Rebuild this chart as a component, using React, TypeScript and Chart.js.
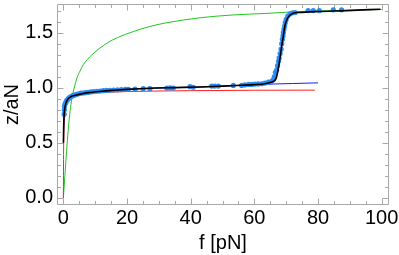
import React, { useEffect, useRef } from "react";
import { Chart, registerables } from "chart.js";
Chart.register(...registerables);

const xTicks = [0, 20, 40, 60, 80, 100];
const yTicks = [0, 0.5, 1.0, 1.5];
const xMinorTicks = [5, 10, 15, 25, 30, 35, 45, 50, 55, 65, 70, 75, 85, 90, 95];
const yMinorTicks = [0.1, 0.2, 0.3, 0.4, 0.6, 0.7, 0.8, 0.9, 1.1, 1.2, 1.3, 1.4, 1.6, 1.7];

const greenF = [0, 0.5, 1, 1.5, 2, 2.5, 3, 3.6, 4.3, 5.2, 6.3, 7.5, 9, 11.5, 14, 17, 22, 27, 32.5, 43, 53, 64, 73, 85, 100];
const greenZ = [0, 0.21, 0.42, 0.61, 0.76, 0.87, 0.95, 1.02, 1.09, 1.15, 1.21, 1.255, 1.3, 1.36, 1.41, 1.455, 1.51, 1.555, 1.59, 1.635, 1.66, 1.675, 1.69, 1.7, 1.71];

const redF = [0, 0.03, 0.06, 0.1, 0.2, 0.4, 0.7, 1, 1.5, 2, 3, 4.5, 7, 10, 15, 20, 30, 40, 60, 79];
const redZ = [0, 0.2, 0.35, 0.5, 0.64, 0.74, 0.81, 0.85, 0.88, 0.9, 0.915, 0.93, 0.943, 0.952, 0.96, 0.965, 0.97, 0.973, 0.977, 0.978];

const blueF = [0.02, 0.08, 0.18, 0.35, 0.63, 1, 1.5, 2.2, 3, 4.6, 7.8, 12, 16, 20, 24, 29, 35, 43, 50, 56, 60, 63.3, 66.5, 72, 80];
const blueZ = [0.5, 0.62, 0.72, 0.79, 0.84, 0.875, 0.9, 0.915, 0.926, 0.937, 0.955, 0.968, 0.977, 0.985, 0.991, 0.997, 1.001, 1.006, 1.014, 1.022, 1.026, 1.03, 1.034, 1.038, 1.044];

const fitF = [0.02, 0.08, 0.18, 0.35, 0.63, 1, 1.5, 2.2, 3, 4.6, 7.8, 12, 16, 20, 24, 29, 35, 43, 50, 56, 60, 63.3, 65.5, 66.5, 67, 67.5, 68, 68.6, 69.1, 69.6, 70.2, 71.2, 72.2, 74, 80, 89, 99.6];
const fitZ = [0.5, 0.62, 0.72, 0.79, 0.84, 0.875, 0.9, 0.915, 0.926, 0.937, 0.955, 0.968, 0.977, 0.985, 0.991, 0.997, 1.001, 1.006, 1.014, 1.022, 1.028, 1.036, 1.051, 1.07, 1.1, 1.17, 1.26, 1.38, 1.47, 1.56, 1.617, 1.66, 1.677, 1.683, 1.692, 1.7, 1.713];

const dataF = [0.25, 0.3, 0.35, 0.5, 0.7, 0.9, 1.1, 1.4, 1.7, 2, 2.4, 2.8, 3.2, 3.7, 4.2, 4.8, 5.5, 6.2, 7, 7.8, 8.6, 9.5, 10.5, 11.5, 12.5, 13.5, 14.6, 15.8, 17, 18.2, 19.5, 20.4, 22.5, 25.1, 27.2, 32.5, 33.5, 34.5, 39.8, 40.8, 46.6, 47.6, 48.7, 53.4, 56, 57, 58.2, 59.2, 60.2, 61.2, 62.3, 63.3, 64.4, 65.5, 66, 66.3, 66.6, 67, 67.3, 67.6, 67.8, 68.1, 68.4, 68.6, 68.8, 69, 69.1, 69.3, 69.5, 69.7, 70, 70.5, 71.2, 72, 72.8, 76.9, 78.5, 80.4, 84.8, 87.4];
const dataZ = [0.76, 0.8, 0.83, 0.85, 0.86, 0.875, 0.885, 0.895, 0.905, 0.91, 0.92, 0.925, 0.93, 0.935, 0.94, 0.945, 0.95, 0.952, 0.955, 0.958, 0.962, 0.965, 0.968, 0.97, 0.973, 0.975, 0.977, 0.979, 0.981, 0.983, 0.985, 0.986, 0.987, 0.991, 0.991, 0.997, 0.999, 0.997, 1.009, 1.004, 1.015, 1.015, 1.015, 1.021, 1.021, 1.025, 1.03, 1.03, 1.033, 1.034, 1.036, 1.042, 1.05, 1.06, 1.075, 1.1, 1.14, 1.16, 1.2, 1.24, 1.27, 1.31, 1.35, 1.4, 1.44, 1.47, 1.5, 1.53, 1.56, 1.59, 1.62, 1.65, 1.67, 1.68, 1.683, 1.7, 1.7, 1.7, 1.707, 1.707];

const pts = (xs: number[], ys: number[]) => xs.map((x, i) => ({ x, y: ys[i] }));

const FONT = "'Liberation Sans', Arial, sans-serif";
const FS = 20;

const framePlugin = {
  id: "frame",
  beforeDatasetsDraw(chart: any) {
    const { ctx, chartArea: a, scales } = chart;
    const xs = scales.x;
    const ys = scales.y;
    ctx.save();
    ctx.strokeStyle = "#a8a8a8";
    ctx.lineWidth = 1;
    const L = a.left + 0.5, R = a.right - 0.5, T = a.top + 0.5, B = a.bottom - 0.5;
    ctx.beginPath();
    ctx.rect(L, T, R - L, B - T);
    const tickX = (v: number, len: number) => {
      const p = Math.round(xs.getPixelForValue(v)) + 0.5;
      ctx.moveTo(p, B); ctx.lineTo(p, B - len);
      ctx.moveTo(p, T); ctx.lineTo(p, T + len);
    };
    const tickY = (v: number, len: number) => {
      const p = Math.round(ys.getPixelForValue(v)) + 0.5;
      ctx.moveTo(L, p); ctx.lineTo(L + len, p);
      ctx.moveTo(R, p); ctx.lineTo(R - len, p);
    };
    xTicks.forEach((v) => tickX(v, 6));
    xMinorTicks.forEach((v) => tickX(v, 3.5));
    yTicks.forEach((v) => tickY(v, 6));
    yMinorTicks.forEach((v) => tickY(v, 3.5));
    ctx.stroke();
    ctx.restore();
  },
};

export default function App() {
  const ref = useRef<HTMLCanvasElement | null>(null);
  useEffect(() => {
    if (!ref.current) return;
    const chart = new Chart(ref.current, {
      type: "scatter",
      data: {
        datasets: [
          { label: "fit", data: pts(fitF, fitZ), showLine: true, borderColor: "#000000", borderWidth: 1.6, pointRadius: 0, cubicInterpolationMode: "monotone", order: 0 } as any,
          { label: "data", data: pts(dataF, dataZ), showLine: false, pointRadius: 2.6, pointBackgroundColor: "#2b8df2", pointBorderWidth: 0, order: 1 } as any,
          { label: "blue", data: pts(blueF, blueZ), showLine: true, borderColor: "#1a1aff", borderWidth: 1, pointRadius: 0, cubicInterpolationMode: "monotone", order: 2 } as any,
          { label: "red", data: pts(redF, redZ), showLine: true, borderColor: "#ff2020", borderWidth: 1, pointRadius: 0, cubicInterpolationMode: "monotone", order: 3 } as any,
          { label: "green", data: pts(greenF, greenZ), showLine: true, borderColor: "#22c422", borderWidth: 1, pointRadius: 0, cubicInterpolationMode: "monotone", order: 4 } as any,
        ],
      },
      options: {
        animation: false,
        responsive: false,
        maintainAspectRatio: false,
        layout: { padding: { top: 0, right: 10, left: 0, bottom: 0 } },
        plugins: { legend: { display: false }, tooltip: { enabled: false } },
        scales: {
          x: {
            type: "linear",
            min: -2,
            max: 102.3,
            grid: { display: false, drawTicks: false },
            border: { display: false },
            afterBuildTicks: (s: any) => { s.ticks = xTicks.map((v) => ({ value: v })); },
            afterFit: (s: any) => { s.height = 50; s.paddingLeft = 0; s.paddingRight = 0; },
            ticks: { color: "#000", padding: 1, font: { family: FONT, size: FS }, callback: (v: any) => String(v) },
            title: { display: true, text: "f [pN]", color: "#000", font: { family: FONT, size: FS }, padding: { top: 0, bottom: 0 } },
          },
          y: {
            type: "linear",
            min: -0.065,
            max: 1.76,
            grid: { display: false, drawTicks: false },
            border: { display: false },
            afterBuildTicks: (s: any) => { s.ticks = yTicks.map((v) => ({ value: v })); },
            afterFit: (s: any) => { s.width = 57; s.paddingTop = 0; s.paddingBottom = 0; },
            ticks: { color: "#000", padding: 4, font: { family: FONT, size: FS }, callback: (v: any) => Number(v).toFixed(1) },
            title: { display: true, text: "z/aN", color: "#000", font: { family: FONT, size: FS }, padding: { top: 0, bottom: 0 } },
          },
        },
      },
      plugins: [framePlugin],
    });
    return () => chart.destroy();
  }, []);
  return (
    <div style={{ position: "fixed", left: 0, top: 0, width: 399, height: 255, background: "#fff" }}>
      <canvas ref={ref} width={399} height={255} style={{ width: 399, height: 255, display: "block" }} />
    </div>
  );
}
